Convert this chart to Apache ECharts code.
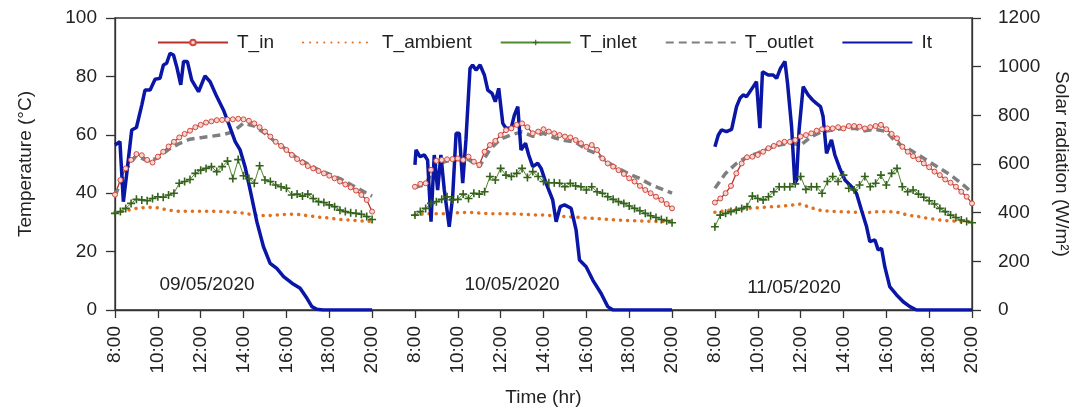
<!DOCTYPE html>
<html>
<head>
<meta charset="utf-8">
<script src="https://cdn.jsdelivr.net/npm/echarts@6/dist/echarts.min.js"></script>
<style>
  html, body { margin: 0; padding: 0; background: #fff; }
  #chart { width: 1082px; height: 414px; }
</style>
</head>
<body>
<div id="chart"></div>
<script>
// x position of each day's 8:00 on the shared hour axis (2 h gap between days)
const dayStart = [0, 14, 28];
const dayLabels = ['09/05/2020', '10/05/2020', '11/05/2020'];

// sample times, hours after 8:00
const hours15 = Array.from({ length: 49 }, (_, i) => i / 4);
const hours30 = Array.from({ length: 25 }, (_, i) => i / 2);

// T_in, 15 min
const tIn1 = [39.5,44.5,48.5,51.4,53.4, 53,51.4,50.5,52.5,54.2, 56,57.6,59.1,60.3,61.4, 62.6,63.4,64.2,64.6,65, 65.1,65.2,65.3,65.5,65.3, 64.8,63.9,62.6,61.1,59.4, 57.6,56.2,54.8,53.1,51.7, 50.5,49.3,48.5,47.6,46.8, 46,45.1,44,43,42, 40.9,39.4,37.7,33.7];
const tIn2 = [42.2,43.2,43.4,48,51.1, 51.4,51.6,51.7,51.9,51.4, 52.5,50.8,49.7,54.2,56.5, 57.9,59.9,61.6,62.2,63.4, 63.9,62.6,60.5,61.1,61.9, 61.1,60.5,59.9,59.4,59.1, 58.2,57.1,55.9,56.5,54.8, 51.9,50.2,49.1,47.9,46.6, 45.1,44,42.5,41.1,40, 38.8,37.7,36.3,34.8];
const tIn3 = [36.8,38.2,40,42.5,46.8, 50.2,52.3,52.5,53.1,54.2, 55.4,56.2,57.1,57.6,57.6, 58.2,59.4,59.9,60.5,61.4, 61.9,62.2,62.2,62.6,62.2, 63,63,62.8,62.2,62.6, 63,63.4,61.9,60.3,58.8, 55.9,54.2,52.7,51.6,50.2, 48.9,47.4,46.2,44.7,43.6, 42.2,40.5,38.8,36.5];

// T_inlet, 15 min
const tInlet1 = [33.1,33.7,34.8,36.5,37.9, 37.7,37.4,38.2,38.8,38.6, 39.4,40,43.4,44,44.7, 46.8,47.9,48.5,49.1,47.4, 49.1,51,45,51.5,46, 45,43.4,49.4,44.5,44, 42.8,42.2,41.7,39.4,39.7, 39,39.7,38.2,37.1,36.8, 36,35.4,34.2,33.7,33.3, 33.1,32.8,32,31];
const tInlet2 = [32.5,33.7,34.8,36.5,37.1, 37.9,38.8,37.7,37.9,39.7, 38.2,40,39.7,40.5,45.7, 44.5,48.5,46.2,45.7,46.8, 48.5,45.4,47.4,45.7,44, 43.6,43.6,43.4,42.2,43.4, 42.5,42.2,41.1,42.2,40.5, 40,38.8,37.9,37.1,36.5, 35.6,34.8,34,33.1,32.3, 31.7,31,30.6,29.9];
const tInlet3 = [28.5,32.5,33.1,33.7,34.2, 34.8,35.4,39,38.2,37.7, 38.8,40.5,42.2,42.2,42.2, 43.2,45.7,41.3,42.2,42.2, 40,44,45.7,44,46.2, 41.7,41.1,42.8,45.7,42.2, 43.4,46.2,42.8,46.8,48.5, 42.2,40.5,41.1,39.7,38.6, 37.4,36.3,34.8,33.7,32.5, 31.7,30.8,30.3,29.9];

// T_outlet, 30 min
const tOut1 = [39,48,53,51,52, 55,57,58.5,59,59.5, 60,61,64,63,60.5, 57.5,55,52,50,48, 46.5,45,43,41,39];
const tOut2 = [42,43,50,51,51.5, 51.5,49,55,58.5,60, 61,59.5,60.5,59,58, 57.5,55,53.5,50.5,48.5, 46.5,45,43,41.5,40];
const tOut3 = [41.7,46.8,50.2,52.5,53.7, 55.4,56.5,57.1,56.5,59.4, 61.1,61.6,62.2,62.2,61.4, 61.9,61.1,57.1,55.4,53.1, 50.8,48.5,46.2,43.4,40.2];

// T_ambient, 30 min
const tAmb1 = [33.5,34,34.8,35.2,35, 34.2,33.8,33.8,33.8,33.8, 33.7,33.5,33.2,32.5,32.3, 32.5,32.8,32.8,32.3,31.8, 31.5,31,30.8,30.5,30.3];
const tAmb2 = [32.5,33,33,33,33.3, 33.5,33.2,33,33,33, 32.8,32.6,32.5,32.3,32, 31.8,31.5,31.3,31,30.8, 30.6,30.5,30.4,30.3,30.3];
const tAmb3 = [33.5,34,34.5,34.8,35, 35.3,35.5,35.8,36.3,35, 34,33.8,33.6,33.5,33.3, 33.6,33.7,33.5,32.5,32, 31.3,30.8,30.5,30.3,30.3];

// It (W/m2), [hours after 8:00, value]
const it1 = [[0,678],[0.23,692],[0.39,445],[0.55,562],[0.78,740],[1.0,750],[1.25,842],[1.4,904],[1.64,904],[1.87,948],[2.1,952],[2.26,1007],[2.41,1014],[2.57,1055],[2.73,1048],[2.88,1000],[3.07,925],[3.2,1021],[3.38,1021],[3.58,945],[3.9,897],[4.2,962],[4.44,938],[4.75,877],[5.06,822],[5.3,767],[5.61,692],[5.84,658],[6.07,589],[6.31,493],[6.62,363],[6.93,260],[7.24,192],[7.55,171],[7.87,137],[8.26,110],[8.64,89],[8.96,48],[9.19,14],[9.42,3],[9.7,0],[12,0]];
const it2 = [[0,596],[0.05,658],[0.23,630],[0.44,637],[0.59,616],[0.75,363],[0.9,637],[1.06,493],[1.21,637],[1.37,493],[1.6,342],[1.76,466],[1.92,726],[2.07,726],[2.23,521],[2.38,699],[2.57,993],[2.69,1007],[2.85,986],[3.04,1007],[3.24,966],[3.4,904],[3.6,890],[3.75,856],[3.91,911],[4.1,767],[4.25,747],[4.49,747],[4.64,801],[4.8,836],[4.95,658],[5.16,685],[5.31,637],[5.5,589],[5.73,603],[5.89,582],[6.12,521],[6.43,452],[6.59,363],[6.78,425],[6.98,432],[7.29,418],[7.52,329],[7.68,205],[7.99,178],[8.3,123],[8.69,68],[9.0,14],[9.24,0],[12,0]];
const it3 = [[0,671],[0.16,719],[0.31,740],[0.54,733],[0.78,742],[1.01,836],[1.17,870],[1.32,884],[1.48,877],[1.79,918],[1.94,938],[2.1,747],[2.22,979],[2.49,966],[2.72,966],[2.88,952],[3.06,993],[3.27,1021],[3.39,932],[3.58,753],[3.73,521],[3.81,534],[3.93,740],[4.12,918],[4.35,884],[4.56,863],[4.74,849],[4.93,836],[5.05,795],[5.21,644],[5.44,699],[5.6,637],[5.83,582],[6.07,534],[6.38,507],[6.61,479],[6.84,411],[7.08,342],[7.23,281],[7.47,288],[7.62,247],[7.78,253],[7.93,178],[8.16,96],[8.48,62],[8.79,34],[9.1,14],[9.41,0],[12,0]];

const FONT = 'Liberation Sans, Arial, sans-serif';
const TXT = '#222';
const AX = '#333';
const CLEAR = 'rgba(0,0,0,0)';

const plus = 'path://M4,0H6V4H10V6H6V10H4V6H0V4H4Z';

function pairs(times, vals, day) {
  return vals.map((v, i) => [dayStart[day] + times[i], v]);
}
function shift(pts, day) {
  return pts.map(p => [dayStart[day] + p[0], p[1]]);
}

const styles = {
  'T_in': { type: 'line', symbol: 'circle', symbolSize: 5, showAllSymbol: true,
    lineStyle: { color: '#b8302a', width: 1.3 },
    itemStyle: { color: '#f7d6d2', borderColor: '#d2493f', borderWidth: 1 } },
  'T_ambient': { type: 'line', symbol: 'none',
    lineStyle: { color: '#e2701f', width: 3.5, type: [0.1, 7], cap: 'round' }, itemStyle: { color: '#e2701f' } },
  'T_inlet': { type: 'line', symbol: plus, symbolSize: 8, showAllSymbol: true,
    lineStyle: { color: '#4f8a2d', width: 1 }, itemStyle: { color: '#34621c' } },
  'T_outlet': { type: 'line', symbol: 'none',
    lineStyle: { color: '#7f7f7f', width: 3.5, type: [8, 5] }, itemStyle: { color: '#7f7f7f' } },
  'It': { type: 'line', symbol: 'none', yAxisIndex: 1,
    lineStyle: { color: '#0a16a6', width: 3.5 }, itemStyle: { color: '#0a16a6' } }
};

const tInDays = [tIn1, tIn2, tIn3];
const tAmbDays = [tAmb1, tAmb2, tAmb3];
const tInletDays = [tInlet1, tInlet2, tInlet3];
const tOutDays = [tOut1, tOut2, tOut3];
const itDays = [it1, it2, it3];

const series = [];
for (let d = 0; d < 3; d++) {
  series.push(Object.assign({ name: 'T_in', data: pairs(hours15, tInDays[d], d) }, styles['T_in']));
  series.push(Object.assign({ name: 'T_ambient', data: pairs(hours30, tAmbDays[d], d) }, styles['T_ambient']));
  series.push(Object.assign({ name: 'T_inlet', data: pairs(hours15, tInletDays[d], d) }, styles['T_inlet']));
  series.push(Object.assign({ name: 'T_outlet', data: pairs(hours30, tOutDays[d], d) }, styles['T_outlet']));
  series.push(Object.assign({ name: 'It', data: shift(itDays[d], d) }, styles['It']));
}

function timeLabel(v) {
  let local = v <= 12 ? v : (v <= 26 ? v - 14 : v - 28);
  return (8 + local) + ':00';
}

const chart = echarts.init(document.getElementById('chart'), null, { renderer: 'canvas' });
chart.setOption({
  animation: false,
  backgroundColor: '#fff',
  textStyle: { fontFamily: FONT },
  grid: { left: 115, right: 110, top: 18, bottom: 104, show: true, borderColor: AX, borderWidth: 1.3 },
  legend: {
    data: [
      { name: 'T_in' },
      { name: 'T_ambient', itemStyle: { color: CLEAR, borderWidth: 0 } },
      { name: 'T_inlet' },
      { name: 'T_outlet', itemStyle: { color: CLEAR, borderWidth: 0 } },
      { name: 'It', itemStyle: { color: CLEAR, borderWidth: 0 } }
    ],
    left: 157, top: 33, padding: 0,
    itemWidth: 70, itemHeight: 7, itemGap: 28,
    textStyle: { fontFamily: FONT, fontSize: 19, color: TXT, padding: [0, 0, 0, 4] }
  },
  xAxis: {
    type: 'value', min: 0, max: 40, interval: 2,
    name: 'Time (hr)', nameLocation: 'middle', nameGap: 78,
    nameTextStyle: { fontFamily: FONT, fontSize: 19, color: TXT },
    axisLine: { onZero: false, lineStyle: { color: AX, width: 1.3 } },
    axisTick: { inside: false, length: 8, lineStyle: { color: AX, width: 1.3 } },
    axisLabel: { rotate: 90, margin: 16, fontFamily: FONT, fontSize: 19, color: TXT, formatter: timeLabel },
    splitLine: { show: false }
  },
  yAxis: [{
    type: 'value', min: 0, max: 100, interval: 20, position: 'left',
    name: 'Temperature (°C)', nameLocation: 'middle', nameGap: 80, nameRotate: 90,
    nameTextStyle: { fontFamily: FONT, fontSize: 19, color: TXT },
    axisLine: { show: true, lineStyle: { color: AX, width: 1.3 } },
    axisTick: { show: true, inside: false, length: 9, lineStyle: { color: AX, width: 1.3 } },
    axisLabel: { margin: 18, fontFamily: FONT, fontSize: 19, color: TXT },
    splitLine: { show: false }
  }, {
    type: 'value', min: 0, max: 1200, interval: 200, position: 'right',
    name: 'Solar radiation (W/m²)', nameLocation: 'middle', nameGap: 80, nameRotate: -90,
    nameTextStyle: { fontFamily: FONT, fontSize: 19, color: TXT },
    axisLine: { show: true, lineStyle: { color: AX, width: 1.3 } },
    axisTick: { show: true, inside: false, length: 9, lineStyle: { color: AX, width: 1.3 } },
    axisLabel: { margin: 26, fontFamily: FONT, fontSize: 19, color: TXT, formatter: v => String(v) },
    splitLine: { show: false }
  }],
  graphic: dayLabels.map((t, d) => ({
    type: 'text',
    x: [207, 512, 794][d], y: [285, 285, 288][d],
    style: { text: t, fontFamily: FONT, fontSize: 19, fill: TXT, align: 'center', verticalAlign: 'middle' }
  })),
  series: series
});
</script>
</body>
</html>
